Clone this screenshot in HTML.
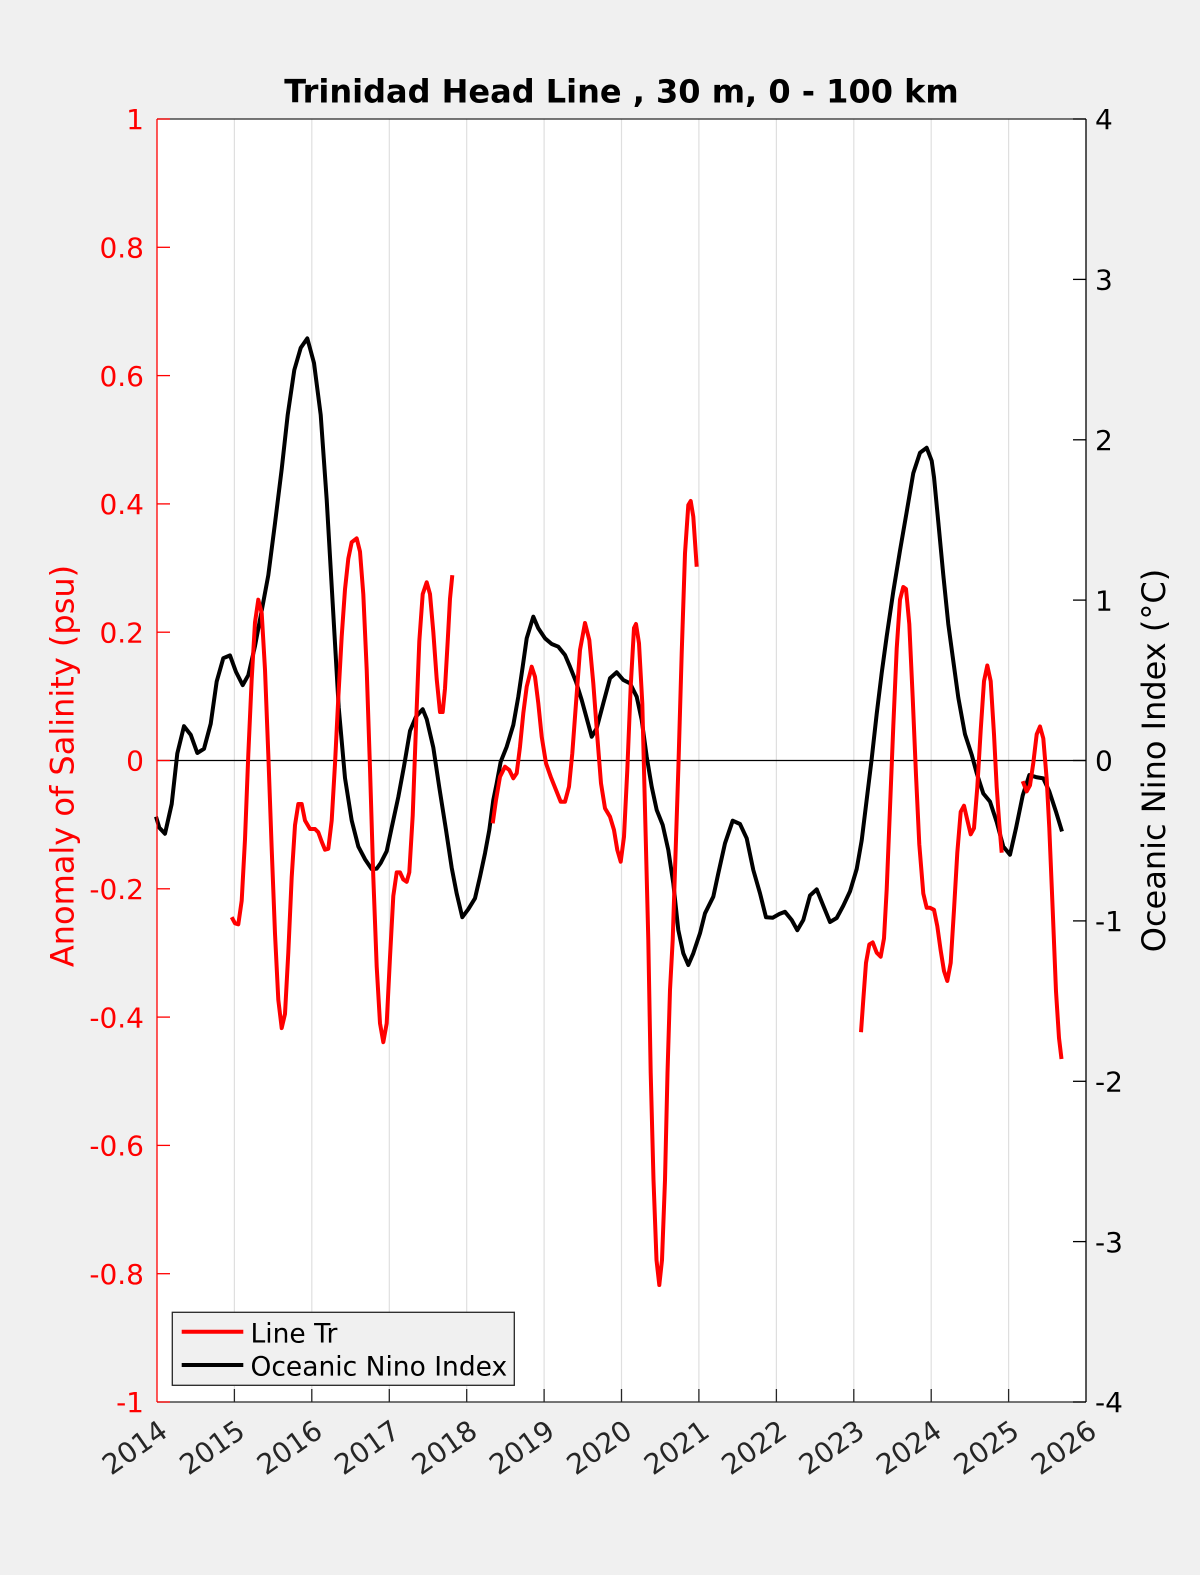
<!DOCTYPE html>
<html>
<head>
<meta charset="utf-8">
<style>
  html, body { margin: 0; padding: 0; background: #f0f0f0; }
  svg { display: block; }
  text { font-family: "DejaVu Sans", "Liberation Sans", sans-serif; }
</style>
</head>
<body>
<svg width="1200" height="1575" viewBox="0 0 1200 1575" xmlns="http://www.w3.org/2000/svg">
  <rect x="0" y="0" width="1200" height="1575" fill="#f0f0f0"/>
  <!-- plot area -->
  <rect x="157" y="119" width="929" height="1283" fill="#ffffff"/>

  <!-- vertical grid lines -->
  <g stroke="#dfdfdf" stroke-width="1.2">
    <line x1="234.4" y1="119" x2="234.4" y2="1402"/>
    <line x1="311.8" y1="119" x2="311.8" y2="1402"/>
    <line x1="389.3" y1="119" x2="389.3" y2="1402"/>
    <line x1="466.7" y1="119" x2="466.7" y2="1402"/>
    <line x1="544.1" y1="119" x2="544.1" y2="1402"/>
    <line x1="621.5" y1="119" x2="621.5" y2="1402"/>
    <line x1="698.9" y1="119" x2="698.9" y2="1402"/>
    <line x1="776.4" y1="119" x2="776.4" y2="1402"/>
    <line x1="853.8" y1="119" x2="853.8" y2="1402"/>
    <line x1="931.2" y1="119" x2="931.2" y2="1402"/>
    <line x1="1008.6" y1="119" x2="1008.6" y2="1402"/>
  </g>

  <!-- zero line -->
  <line x1="157" y1="760.5" x2="1086" y2="760.5" stroke="#000" stroke-width="1.2"/>

  <!-- Oceanic Nino Index (black) -->
  <polyline fill="none" stroke="#000" stroke-width="4" stroke-linejoin="round" stroke-linecap="butt" points="
156,816.7 159.3,827.6 165,833.7 171.7,804 177.3,753.5 184,726.2 190.7,734.7 197.3,753 204,748.8 210.7,723.8
216.7,681.4 223.3,658.2 230,655.4 236,671.9 242.7,685.1 248.3,675.2 255,646 261.7,610.6 268.3,575.2 275,523.3
281.7,469.1 287.7,414.9 294.3,370 300.7,347.9 307.3,338.4 314,363 320.7,414.9 326.7,499.7 332.7,603.5 338.7,707.3
345,778 351.7,820.5 358.3,846.4 365,859.2 371.7,869.1 376.7,868.6 380.7,863 386.7,851.2 391.7,827.6 398.3,797
404,766.3 410,730.9 416,716.7 422.7,709.2 426.7,719.1 433.3,747.4 439.3,787.5 446,829.9 451.7,867.7 456.7,893.6
462.3,917.2 468.3,909.2 475,898.3 480,876.7 485,853.3 489.3,830 493.3,800 496.7,783.3 500.7,761.7 506.7,746.7
513.3,725 518.3,696.7 522.7,666.7 526.7,638.3 533.3,616.7 538.3,628.3 545,638.3 551.7,644 558.3,646.7 565,655
570,666.7 576,681.7 581.7,700 586.7,718.3 591.7,736.7 596.7,728.3 603.3,703.3 610,678.3 616.7,672.3 623.3,680
630,683.3 636.7,696.7 641.7,720 646.7,756.7 651.7,786.7 656.7,810 662.7,825 668.3,850 673.3,883.3 678.3,930
683.3,953.3 688.3,965 693.3,953.3 700,933.3 705,913.3 713.3,896.7 718.3,873.3 725,843.3 732.7,820.7 740,824
746.7,838.3 753.3,870 760,893.3 766,917.3 772.7,917.7 779.3,914 785,911.8 791.7,920 797.3,930.2 803.3,920
810,895.5 816.7,889.4 823.3,905.7 830,922 836.7,918 843.3,905.7 850,891.4 856.7,869 861.7,840.4 866.7,799.6
871.7,758.8 876.7,713.9 881.7,673 886.7,636.3 893.3,591.4 900,550.6 906.7,511.8 913.3,473.1 920,452.7 926.7,447.8
931.7,460.8 934,477.1 938.3,522 943.3,575.1 948.3,624.1 952.7,656.7 958.3,697.6 965,734.3 971.7,754.7 976.7,773.1
983.3,793.5 990,801.6 996.7,822 1003.3,846.5 1010,854.7 1016,828.2 1022.7,795.5 1029.3,775.1 1036,777.1 1043.3,778.4
1049.3,791.4 1056,811.8 1062,831.4"/>

  <!-- Line Tr salinity anomaly (red) -->
  <g fill="none" stroke="#ff0000" stroke-width="4" stroke-linejoin="round" stroke-linecap="butt">
    <polyline points="
231.7,917.2 235,923.3 238.3,924.3 241.7,900.7 245,839.4 248.3,754.5 251.7,679 255,622.4 258.3,599.7 261.7,613
265,669.6 268.3,754.5 271.7,848.8 275,933.7 278.3,999.7 281.7,1028.1 285,1013.9 288.3,952.6 291.7,877.1 295,825.2
298.3,804 301.7,804 305,820.5 310,829 315,829 318.3,832.3 321.7,841.7 325,849.7 328.3,848.8 331.7,820.5
335,763.9 338.3,697.9 341.7,636.5 345,589.4 348.3,558.7 351.7,542.2 356.7,538.4 360,551.6 363.3,594.1 366.7,669.6
370,768.6 373.3,877.1 376.7,966.7 380,1023.3 383.3,1042.2 386.7,1023.3 390,957.3 393.3,896 396.7,872.4 400,872.4
403.3,879.5 406.7,881.8 409.3,872.4 412.7,815.8 416,726.2 419.3,641.3 422.7,594.1 426.7,582.3 430,594.1 433.3,631.8
436.7,679 440,712 442.7,712 445,688.4 447.7,641.3 450,598.8 452.3,575.2"/>
    <polyline points="
492.7,823.3 496,800 500,776.7 505,766.7 509.3,770 513.3,778.3 516.7,773.3 520,746.7 523.3,713.3 526.7,686.7
531.7,666.7 535,676.7 538.3,703.3 541.7,736.7 546,763.3 550.7,776.7 556,790 560.7,801.7 565,801.7 569,786.7
572.3,753.3 576,703.3 580,650 585,623 589.3,640 593.3,683.3 597.3,736.7 601,783.3 605,808.3 610,816.7
614,830 617.3,850 620.7,861.7 624,836.7 627.3,770 630.7,686.7 634,628 636,624 639,643.3 642.3,703.3
645.7,836.7 648.3,940 650.7,1073 653.5,1180 656.5,1260 659.3,1285 662,1260 665,1180 667.5,1073 670,990
672.7,940 675,870 678.3,770 681.7,653.3 685,553.3 688.3,505 690.7,501 693.3,516.7 696.7,566.7"/>
    <polyline points="
861,1032.2 863.3,999.6 866,962.9 869.3,944.5 872.7,942.4 876.7,952.7 880.7,956.7 884,938.4 886.7,889.4 890,807.8
893.3,726.1 896.7,648.6 900,599.6 903.3,587 906,589 909.3,624.1 912.7,697.6 916,775.1 919.3,844.5 923.3,893.5
926.7,907.8 930,907.8 934,909.8 937.3,926.1 940.7,950.6 944,971 947.3,981 950.7,962.9 954,909.8 957.3,852.7
960.7,811.8 964,805.7 967.3,820 970.7,834.3 974,828.2 977.3,787.3 980.7,730.2 984,681.2 987.3,665.5 990.7,681.2
994,734.3 996.7,787.3 999.3,824.1 1001.7,852.7"/>
    <polyline points="
1022.7,781.2 1026.7,791.4 1030,785.3 1033.3,762.9 1036.7,734.3 1040,726.5 1043.3,738.4 1046.7,779.2 1049.3,828.2
1052.7,909.8 1056,991.4 1059,1038 1061.5,1059"/>
  </g>

  <!-- axes box -->
  <line x1="157" y1="119" x2="1086" y2="119" stroke="#262626" stroke-width="1.3"/>
  <line x1="157" y1="1402" x2="1086" y2="1402" stroke="#262626" stroke-width="1.3"/>
  <line x1="157" y1="119" x2="157" y2="1402" stroke="#ff0000" stroke-width="1.3"/>
  <line x1="1086" y1="119" x2="1086" y2="1402" stroke="#000000" stroke-width="1.3"/>

  <!-- bottom ticks -->
  <g stroke="#262626" stroke-width="1.3">
    <line x1="234.4" y1="1402" x2="234.4" y2="1389"/>
    <line x1="311.8" y1="1402" x2="311.8" y2="1389"/>
    <line x1="389.3" y1="1402" x2="389.3" y2="1389"/>
    <line x1="466.7" y1="1402" x2="466.7" y2="1389"/>
    <line x1="544.1" y1="1402" x2="544.1" y2="1389"/>
    <line x1="621.5" y1="1402" x2="621.5" y2="1389"/>
    <line x1="698.9" y1="1402" x2="698.9" y2="1389"/>
    <line x1="776.4" y1="1402" x2="776.4" y2="1389"/>
    <line x1="853.8" y1="1402" x2="853.8" y2="1389"/>
    <line x1="931.2" y1="1402" x2="931.2" y2="1389"/>
    <line x1="1008.6" y1="1402" x2="1008.6" y2="1389"/>
  </g>

  <!-- left ticks -->
  <g stroke="#ff0000" stroke-width="1.3">
    <line x1="157" y1="119" x2="170" y2="119"/>
    <line x1="157" y1="247.3" x2="170" y2="247.3"/>
    <line x1="157" y1="375.6" x2="170" y2="375.6"/>
    <line x1="157" y1="503.9" x2="170" y2="503.9"/>
    <line x1="157" y1="632.2" x2="170" y2="632.2"/>
    <line x1="157" y1="760.5" x2="170" y2="760.5"/>
    <line x1="157" y1="888.8" x2="170" y2="888.8"/>
    <line x1="157" y1="1017.1" x2="170" y2="1017.1"/>
    <line x1="157" y1="1145.4" x2="170" y2="1145.4"/>
    <line x1="157" y1="1273.7" x2="170" y2="1273.7"/>
    <line x1="157" y1="1402" x2="170" y2="1402"/>
  </g>

  <!-- right ticks -->
  <g stroke="#000" stroke-width="1.3">
    <line x1="1086" y1="119" x2="1073" y2="119"/>
    <line x1="1086" y1="279.4" x2="1073" y2="279.4"/>
    <line x1="1086" y1="439.8" x2="1073" y2="439.8"/>
    <line x1="1086" y1="600.1" x2="1073" y2="600.1"/>
    <line x1="1086" y1="760.5" x2="1073" y2="760.5"/>
    <line x1="1086" y1="920.9" x2="1073" y2="920.9"/>
    <line x1="1086" y1="1081.3" x2="1073" y2="1081.3"/>
    <line x1="1086" y1="1241.6" x2="1073" y2="1241.6"/>
    <line x1="1086" y1="1402" x2="1073" y2="1402"/>
  </g>

  <!-- left tick labels -->
  <g fill="#ff0000" font-size="28" text-anchor="end">
    <text x="144" y="129.2">1</text>
    <text x="144" y="257.5">0.8</text>
    <text x="144" y="385.8">0.6</text>
    <text x="144" y="514.1">0.4</text>
    <text x="144" y="642.4">0.2</text>
    <text x="144" y="770.7">0</text>
    <text x="144" y="899">-0.2</text>
    <text x="144" y="1027.3">-0.4</text>
    <text x="144" y="1155.6">-0.6</text>
    <text x="144" y="1283.9">-0.8</text>
    <text x="144" y="1412.2">-1</text>
  </g>

  <!-- right tick labels -->
  <g fill="#000" font-size="28" text-anchor="start">
    <text x="1095" y="129.2">4</text>
    <text x="1095" y="289.6">3</text>
    <text x="1095" y="450">2</text>
    <text x="1095" y="610.3">1</text>
    <text x="1095" y="770.7">0</text>
    <text x="1095" y="931.1">-1</text>
    <text x="1095" y="1091.5">-2</text>
    <text x="1095" y="1251.8">-3</text>
    <text x="1095" y="1412.2">-4</text>
  </g>

  <!-- x tick labels (rotated) -->
  <g fill="#262626" font-size="28" text-anchor="end">
    <text x="169.5" y="1435" transform="rotate(-35 169.5 1435)">2014</text>
    <text x="246.9" y="1435" transform="rotate(-35 246.9 1435)">2015</text>
    <text x="324.3" y="1435" transform="rotate(-35 324.3 1435)">2016</text>
    <text x="401.8" y="1435" transform="rotate(-35 401.8 1435)">2017</text>
    <text x="479.2" y="1435" transform="rotate(-35 479.2 1435)">2018</text>
    <text x="556.6" y="1435" transform="rotate(-35 556.6 1435)">2019</text>
    <text x="634" y="1435" transform="rotate(-35 634 1435)">2020</text>
    <text x="711.4" y="1435" transform="rotate(-35 711.4 1435)">2021</text>
    <text x="788.9" y="1435" transform="rotate(-35 788.9 1435)">2022</text>
    <text x="866.3" y="1435" transform="rotate(-35 866.3 1435)">2023</text>
    <text x="943.7" y="1435" transform="rotate(-35 943.7 1435)">2024</text>
    <text x="1021.1" y="1435" transform="rotate(-35 1021.1 1435)">2025</text>
    <text x="1098.5" y="1435" transform="rotate(-35 1098.5 1435)">2026</text>
  </g>

  <!-- title -->
  <text x="621.5" y="102.5" font-size="32" font-weight="bold" text-anchor="middle" fill="#000">Trinidad Head Line , 30 m, 0 - 100 km</text>

  <!-- axis labels -->
  <text x="73.3" y="766" font-size="32" fill="#ff0000" text-anchor="middle" transform="rotate(-90 73.3 766)">Anomaly of Salinity (psu)</text>
  <text x="1165" y="760.5" font-size="32" fill="#000" text-anchor="middle" transform="rotate(-90 1165 760.5)">Oceanic Nino Index (°C)</text>

  <!-- legend -->
  <rect x="172.3" y="1312.3" width="342" height="73" fill="#f0f0f0" stroke="#262626" stroke-width="1.3"/>
  <line x1="181.7" y1="1331.7" x2="243.3" y2="1331.7" stroke="#ff0000" stroke-width="4"/>
  <line x1="181.7" y1="1365" x2="243.3" y2="1365" stroke="#000" stroke-width="4"/>
  <text x="250.5" y="1342.3" font-size="26.5" fill="#000">Line Tr</text>
  <text x="250.5" y="1375.3" font-size="26.5" fill="#000">Oceanic Nino Index</text>
</svg>
</body>
</html>
